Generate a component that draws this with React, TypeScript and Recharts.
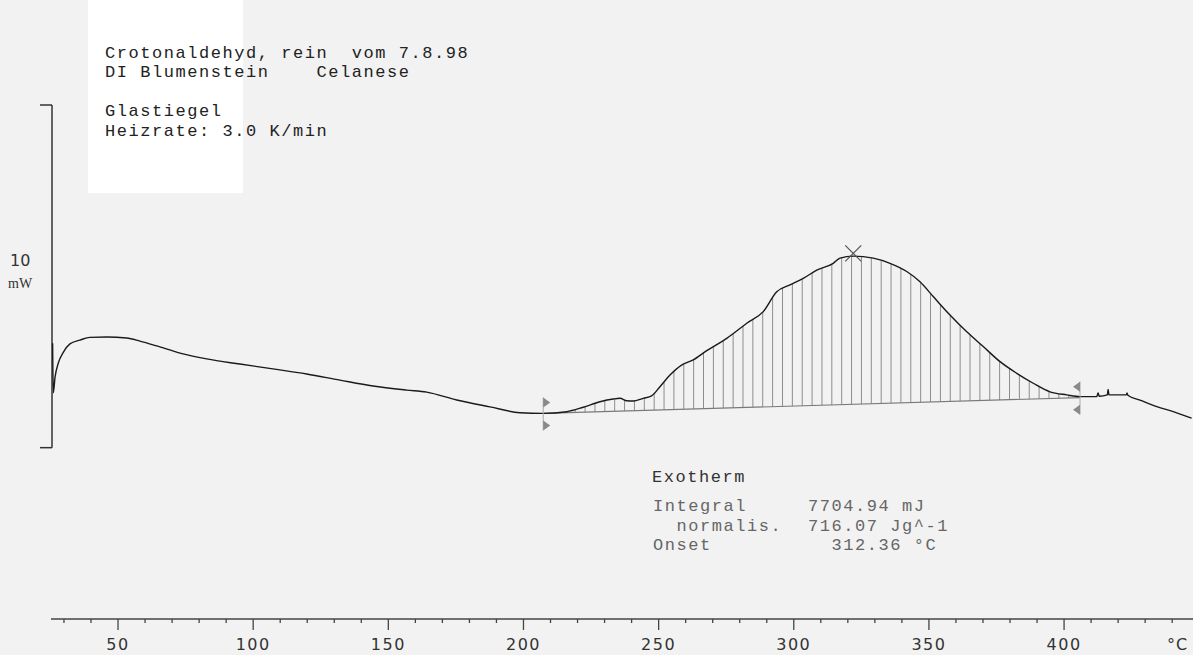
import { ComposedChart, Line, Area, XAxis, YAxis, ReferenceLine, ReferenceDot } from "recharts";

const temperature = [
  25.8, 26.05, 26.7, 27.9, 29.8, 32.2, 35.9, 39.6, 45.8, 53.2, 58.1, 64.3, 72.9, 82.8, 95.1,
  107.3, 119.8, 132.1, 144.3, 156.8, 164.2, 175.3, 187.6, 198.7, 207.3, 216.0, 222.1, 228.3,
  233.2, 235.7, 238.2, 240.6, 244.3, 247.4, 250.5, 254.2, 258.5, 262.8, 267.8, 275.2, 282.6,
  288.7, 293.7, 298.6, 303.5, 308.5, 314.6, 317.1, 322.0, 329.4, 335.6, 341.8, 346.7, 351.6,
  357.8, 364.0, 370.1, 376.3, 382.5, 388.6, 394.8, 401.0, 405.9, 412.1, 412.6, 413.0, 416.0,
  416.3, 416.6, 423.0, 423.3, 423.6, 428.1, 434.3, 440.4, 447.2,
];
const heatFlow = [
  3.05, 1.6, 2.06, 2.47, 2.79, 3.03, 3.14, 3.22, 3.23, 3.2, 3.11, 2.97, 2.76, 2.59, 2.44,
  2.3, 2.15, 1.97, 1.8, 1.68, 1.62, 1.39, 1.19, 1.02, 1.0, 1.05, 1.18, 1.34,
  1.42, 1.44, 1.37, 1.36, 1.44, 1.51, 1.78, 2.12, 2.41, 2.56, 2.83, 3.19, 3.63,
  3.97, 4.55, 4.75, 4.94, 5.18, 5.38, 5.53, 5.59, 5.53, 5.38, 5.14, 4.84, 4.41,
  3.87, 3.38, 2.95, 2.51, 2.17, 1.88, 1.63, 1.54, 1.49, 1.49, 1.6, 1.5, 1.54,
  1.7, 1.54, 1.54, 1.6, 1.53, 1.39, 1.2, 1.05, 0.86,
];

// Integrationsgrenzen (Basislinie) und Peak
const baselineStart = [207.3, 1.0];
const baselineEnd = [405.9, 1.46];
const peak = [322.0, 5.67];

const axisTicks = [30, 40, 50, 60, 70, 80, 90, 100, 110, 120, 130, 140, 150, 160, 170, 180, 190, 200,
  210, 220, 230, 240, 250, 260, 270, 280, 290, 300, 310, 320, 330, 340, 350, 360, 370, 380, 390, 400,
  410, 420, 430, 440];

// Massstab 10 mW
const scaleBar = { x: 25.57, left: 21.14, low: 0, high: 10 };

const baseAt = (t: number) =>
  baselineStart[1] + ((t - baselineStart[0]) * (baselineEnd[1] - baselineStart[1])) / (baselineEnd[0] - baselineStart[0]);

const rows = temperature.map((t, i) => ({
  t,
  q: heatFlow[i],
  band: t >= baselineStart[0] && t <= baselineEnd[0] ? [baseAt(t), heatFlow[i]] : null,
}));

const AxisTick = (props: any) => {
  const { x, y, payload } = props;
  const major = payload.value % 50 === 0;
  return (
    <g>
      <line x1={x} y1={y} x2={x} y2={y + (major ? 11 : 4)} stroke="#444" strokeWidth={1.3} />
      {major && (
        <text x={x} y={y + 31} textAnchor="middle" fontFamily="DejaVu Sans" fontSize={16} letterSpacing={1.5} fill="#333">
          {payload.value}
        </text>
      )}
    </g>
  );
};

const Marker = (dir: number) => (props: any) => {
  const { cx, cy } = props;
  const up = cy - 11;
  const dn = cy + 12;
  return (
    <g fill="#8a8a8a" stroke="none">
      <line x1={cx} y1={up - 5} x2={cx} y2={dn + 5} stroke="#aaa" strokeWidth={1} />
      <path d={`M${cx},${up - 5} L${cx + dir * 7},${up} L${cx},${up + 5} Z`} />
      <path d={`M${cx},${dn - 5} L${cx + dir * 7},${dn} L${cx},${dn + 5} Z`} />
    </g>
  );
};

const Cross = (props: any) => {
  const { cx, cy } = props;
  return (
    <g stroke="#555" strokeWidth={1.2}>
      <line x1={cx - 8} y1={cy - 8} x2={cx + 8} y2={cy + 8} />
      <line x1={cx - 8} y1={cy + 8} x2={cx + 8} y2={cy - 8} />
    </g>
  );
};

const mono = { fontFamily: "Liberation Mono", fontSize: 17, letterSpacing: 1.55, whiteSpace: "pre" as const };

const T = ({ x, y, fill = "#222", children }: any) => (
  <text x={x} y={y} fill={fill} style={mono} xmlSpace="preserve">
    {children}
  </text>
);

export default function App() {
  return (
    <div style={{ position: "absolute", left: 0, top: 0, width: 1193, height: 655, background: "#f2f2f2", overflow: "hidden" }}>
      <div style={{ position: "absolute", left: 88, top: 0, width: 155, height: 193, background: "#fff" }} />
      <div style={{ position: "absolute", left: 0, top: 0 }}>
        <ComposedChart width={1193} height={655} data={rows} margin={{ top: 105, right: 0, bottom: 0, left: 51 }}>
          <defs>
            <pattern id="hatch" patternUnits="userSpaceOnUse" x={2.25} y={0} width={9.87} height={20}>
              <line x1={0.5} y1={0} x2={0.5} y2={20} stroke="#8c8c8c" strokeWidth={1} />
            </pattern>
          </defs>
          <XAxis
            dataKey="t"
            type="number"
            domain={[25.2, 447.7]}
            allowDataOverflow
            ticks={axisTicks}
            interval={0}
            height={36}
            tickSize={0}
            tickMargin={0}
            tickLine={false}
            tick={<AxisTick />}
            axisLine={{ stroke: "#444", strokeWidth: 1.5 }}
          />
          <YAxis hide type="number" domain={[-5, 10]} allowDataOverflow />
          <Area dataKey="band" type="monotone" stroke="none" fill="url(#hatch)" fillOpacity={1} isAnimationActive={false} />
          <ReferenceLine
            segment={[{ x: baselineStart[0], y: baselineStart[1] }, { x: baselineEnd[0], y: baselineEnd[1] }]}
            stroke="#7a7a7a"
            strokeWidth={1.2}
            ifOverflow="visible"
          />
          <ReferenceLine segment={[{ x: scaleBar.x, y: scaleBar.low }, { x: scaleBar.x, y: scaleBar.high }]} stroke="#333" strokeWidth={1.5} ifOverflow="visible" />
          <ReferenceLine segment={[{ x: scaleBar.left, y: scaleBar.high }, { x: scaleBar.x, y: scaleBar.high }]} stroke="#333" strokeWidth={1.5} ifOverflow="visible" />
          <ReferenceLine segment={[{ x: scaleBar.left, y: scaleBar.low }, { x: scaleBar.x, y: scaleBar.low }]} stroke="#333" strokeWidth={1.5} ifOverflow="visible" />
          <Line dataKey="q" type="monotone" stroke="#1a1a1a" strokeWidth={1.4} dot={false} isAnimationActive={false} />
          <ReferenceDot x={baselineStart[0]} y={baselineStart[1]} shape={Marker(1)} ifOverflow="visible" />
          <ReferenceDot x={baselineEnd[0]} y={baselineEnd[1]} shape={Marker(-1)} ifOverflow="visible" />
          <ReferenceDot x={peak[0]} y={peak[1]} shape={<Cross />} ifOverflow="visible" />
        </ComposedChart>
      </div>
      <svg width={1193} height={655} style={{ position: "absolute", left: 0, top: 0, pointerEvents: "none" }}>
        <T x={105} y={57.5}>Crotonaldehyd, rein  vom 7.8.98</T>
        <T x={105} y={76.5}>DI Blumenstein    Celanese</T>
        <T x={105} y={116}>Glastiegel</T>
        <T x={105} y={135.5}>Heizrate: 3.0 K/min</T>
        <T x={652} y={481.5} fill="#333">Exotherm</T>
        <T x={653} y={511} fill="#666">Integral</T>
        <T x={808} y={511} fill="#666">7704.94 mJ</T>
        <T x={676.5} y={531} fill="#666">normalis.</T>
        <T x={808} y={531} fill="#666">716.07 Jg^-1</T>
        <T x={653} y={550} fill="#666">Onset</T>
        <T x={831.5} y={550} fill="#666">312.36 °C</T>
        <text x={10} y={266} fontFamily="DejaVu Sans" fontSize={16} fill="#333">10</text>
        <text x={8} y={288} fontFamily="Liberation Serif" fontSize={14} fill="#333">mW</text>
        <text x={1167} y={650} fontFamily="DejaVu Sans" fontSize={16} letterSpacing={1} fill="#333">°C</text>
      </svg>
    </div>
  );
}
